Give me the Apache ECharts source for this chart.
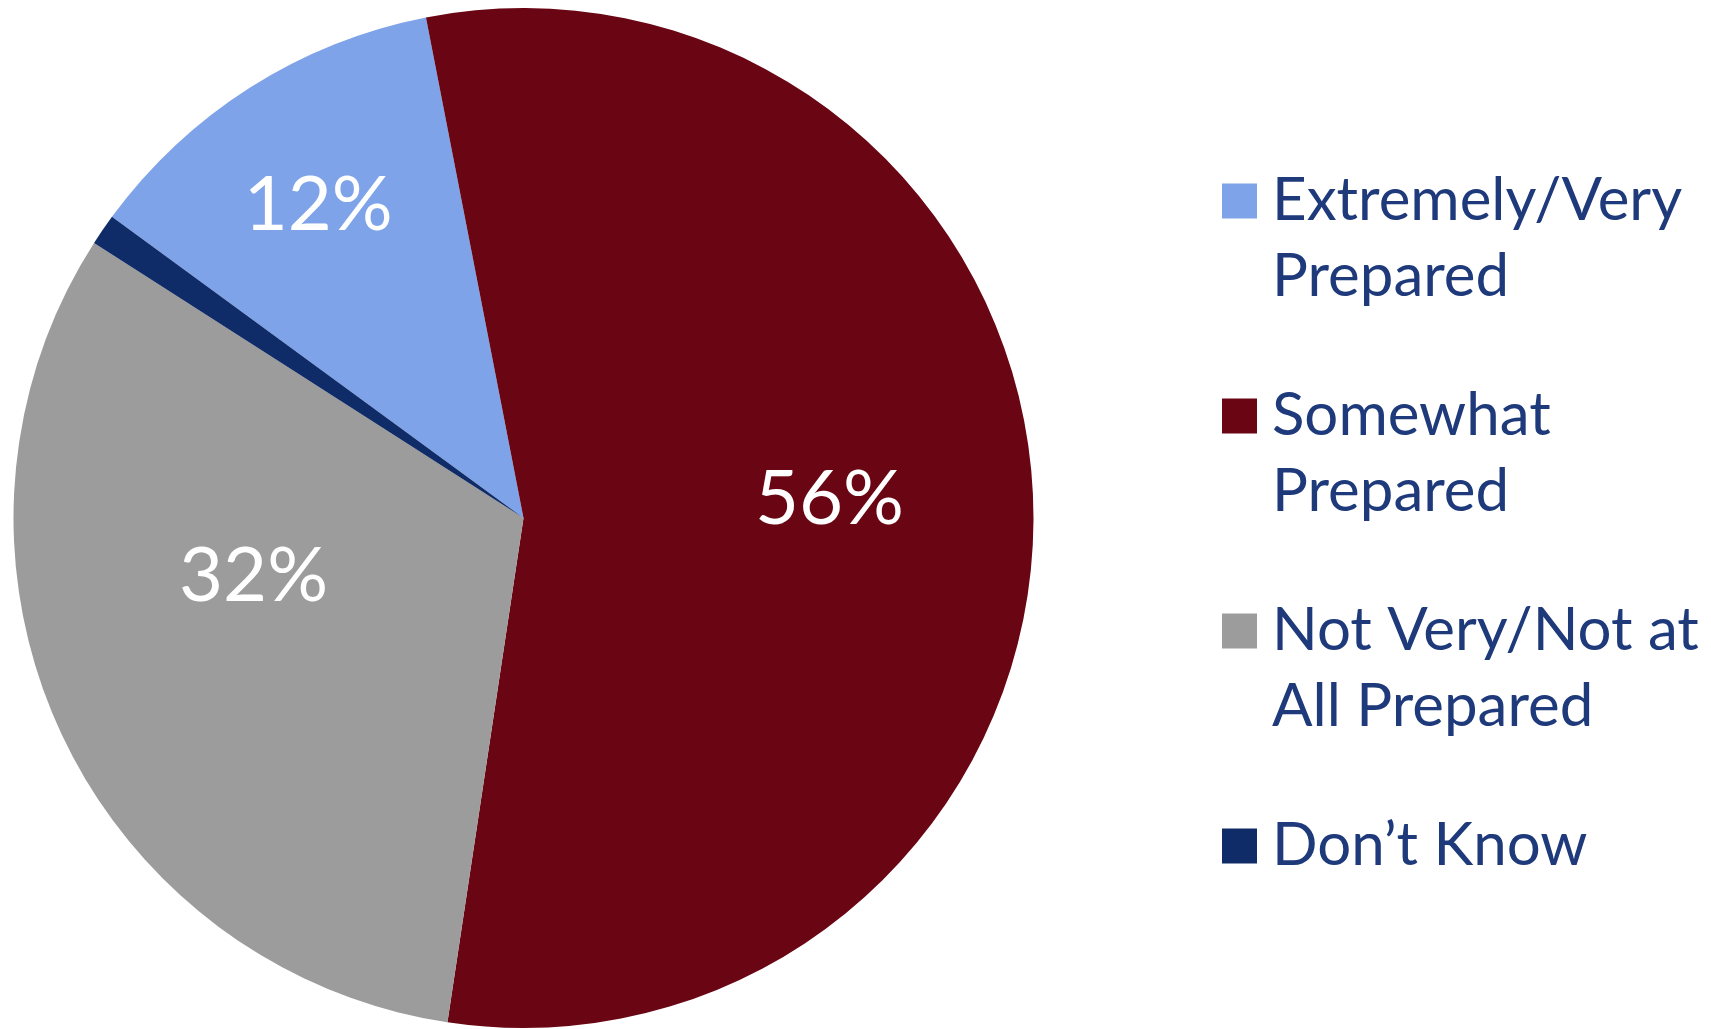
<!DOCTYPE html>
<html>
<head>
<meta charset="utf-8">
<title>Preparedness</title>
<script src="https://cdn.jsdelivr.net/npm/echarts@6/dist/echarts.min.js"></script>
<style>
  html, body { margin: 0; padding: 0; background: #ffffff; }
  #chart { width: 1711px; height: 1029px; }
</style>
</head>
<body>
<div id="chart"></div>
<script>
// Survey answers and their shares (percent)
const categories = [
  'Extremely/Very\nPrepared',
  'Somewhat\nPrepared',
  'Not Very/Not at\nAll Prepared',
  'Don\u2019t Know'
];
const values = [12, 56, 32, 1];
const showValueLabel = [true, true, true, false];

// Slice colours, in the same order as the categories
const sliceColors = ['#7FA3E8', '#6A0613', '#9C9C9C', '#102C68'];

// Nudges for the in-slice percentage labels (pixels)
const labelShift = [[-67, -95], [48, -13], [-35, -48], [0, 0]];

const chart = echarts.init(document.getElementById('chart'), null, { renderer: 'canvas' });

// Legend text: each entry's first line sits level with its colour square
const LINE = 76;
const legendRich = {
  t: { fontFamily: 'Lato', fontSize: 60, color: '#1E3A7B', lineHeight: LINE }
};

chart.setOption({
  animation: false,
  backgroundColor: '#ffffff',
  legend: {
    orient: 'vertical',
    left: 1222,
    top: 87,
    padding: 0,
    itemWidth: 35,
    itemHeight: 35,
    itemGap: -13,
    icon: 'rect',
    selectedMode: false,
    formatter: function (name) {
      return name.split('\n').map(function (line) {
        return '{t|' + line + '}';
      }).join('\n');
    },
    textStyle: {
      fontFamily: 'Lato',
      fontSize: 60,
      color: '#1E3A7B',
      lineHeight: LINE,
      padding: [LINE, 0, 0, 10],
      rich: legendRich
    },
    data: categories.map(function (name) {
      const single = name.indexOf('\n') < 0;
      return {
        name: name,
        textStyle: single ? { padding: [LINE, 0, LINE, 10] } : {}
      };
    })
  },
  series: [{
    type: 'pie',
    center: [523.5, 518],
    radius: 510,
    startAngle: 143.8,
    clockwise: true,
    avoidLabelOverlap: false,
    emphasis: { disabled: true },
    itemStyle: { borderWidth: 0 },
    label: {
      show: true,
      position: 'inside',
      formatter: '{c}%',
      color: '#ffffff',
      fontFamily: 'Lato',
      fontSize: 76
    },
    labelLine: { show: false },
    labelLayout: function (params) {
      const s = labelShift[params.dataIndex];
      return { dx: s[0], dy: s[1] };
    },
    data: categories.map(function (name, i) {
      return {
        name: name,
        value: values[i],
        itemStyle: { color: sliceColors[i] },
        label: { show: showValueLabel[i] }
      };
    })
  }]
});
</script>
</body>
</html>
